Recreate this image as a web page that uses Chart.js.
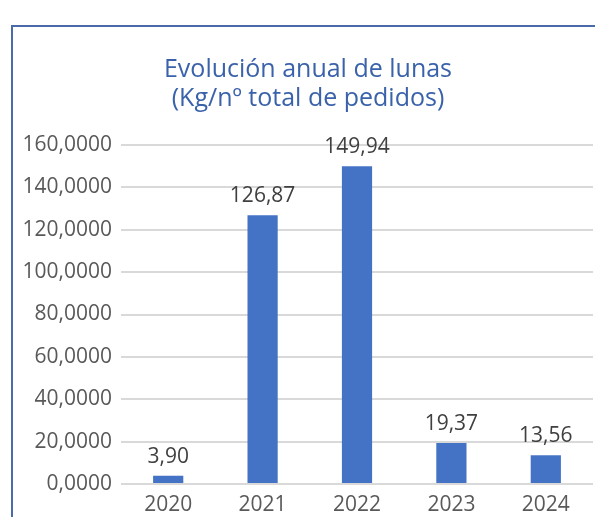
<!DOCTYPE html>
<html>
<head>
<meta charset="utf-8">
<script src="https://cdn.jsdelivr.net/npm/chart.js@4"></script>
<style>
  html, body { margin: 0; padding: 0; background: #fff; overflow: hidden; }
  #wrap { position: relative; width: 595px; height: 517px; }
  #frame { position: absolute; left: 11px; top: 25px; width: 700px; height: 600px;
           border-left: 2px solid #4a6aa8; border-top: 2px solid #4a6aa8; pointer-events: none; }
</style>
</head>
<body>
<div id="wrap">
  <canvas id="chart" width="595" height="517"></canvas>
  <div id="frame"></div>
</div>
<script>
// datos
const years = ['2020', '2021', '2022', '2023', '2024'];
const kgPerOrder = [3.90, 126.87, 149.94, 19.37, 13.56];
const yTicks = [0, 20, 40, 60, 80, 100, 120, 140, 160];
const titleLines = ['Evolución anual de lunas', '(Kg/nº total de pedidos)'];

const FONT = '"Open Sans", "Noto Sans", sans-serif';
const fmt = (v, d) => v.toFixed(d).replace('.', ',');

// título dibujado a mano: en el original no está centrado en el lienzo
const chartTitle = {
    id: 'chartTitle',
    afterDraw(chart) {
        const ctx = chart.ctx;
        ctx.save();
        ctx.font = '25px ' + FONT;
        ctx.fillStyle = '#3a62aa';
        ctx.textAlign = 'center';
        ctx.textBaseline = 'alphabetic';
        titleLines.forEach((line, i) => ctx.fillText(line, 308, 77 + i * 29));
        ctx.restore();
    }
};

// etiquetas de valor encima de cada barra
const barLabels = {
    id: 'barLabels',
    afterDatasetsDraw(chart) {
        const ctx = chart.ctx;
        const meta = chart.getDatasetMeta(0);
        ctx.save();
        ctx.font = '21px ' + FONT;
        ctx.fillStyle = '#404040';
        ctx.textAlign = 'center';
        ctx.textBaseline = 'alphabetic';
        meta.data.forEach((bar, i) => {
            ctx.fillText(fmt(kgPerOrder[i], 2), bar.x, bar.y - 13);
        });
        ctx.restore();
    }
};

new Chart(document.getElementById('chart').getContext('2d'), {
    type: 'bar',
    data: {
        labels: years,
        datasets: [{
            data: kgPerOrder,
            backgroundColor: '#4472c4',
            categoryPercentage: 1,
            barPercentage: 0.32
        }]
    },
    options: {
        responsive: false,
        animation: false,
        layout: { padding: { left: 0, right: 2, top: 145, bottom: 2 } },
        plugins: {
            legend: { display: false },
            tooltip: { enabled: false },
            title: { display: false }
        },
        scales: {
            x: {
                afterFit(scale) { scale.height = 31; },
                grid: { display: false },
                border: { display: false },
                ticks: { color: '#595959', font: { family: FONT, size: 21 }, padding: 0 }
            },
            y: {
                min: 0,
                max: 160,
                afterFit(scale) { scale.width = 121; },
                afterBuildTicks(scale) { scale.ticks = yTicks.map(v => ({ value: v })); },
                grid: { color: '#d9d9d9', lineWidth: 2, drawTicks: false },
                border: { display: false },
                ticks: {
                    color: '#595959',
                    font: { family: FONT, size: 21 },
                    padding: 9,
                    callback: v => fmt(v, 4)
                }
            }
        }
    },
    plugins: [barLabels, chartTitle]
});
</script>
</body>
</html>
